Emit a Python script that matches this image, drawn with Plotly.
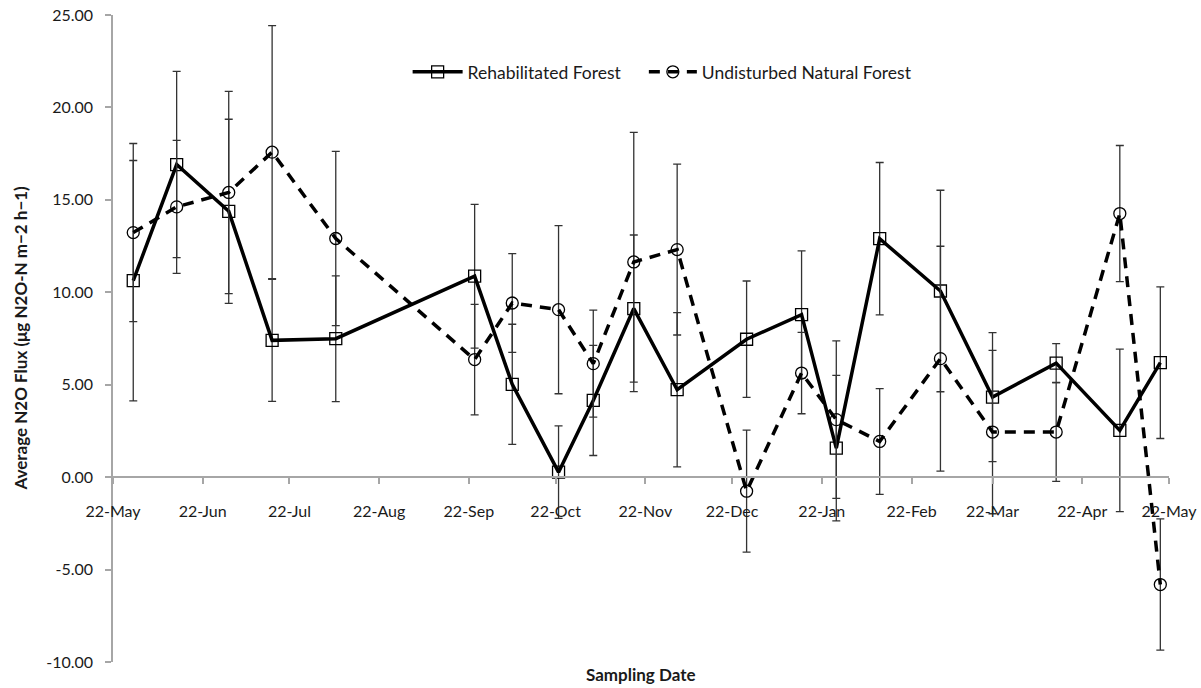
import plotly.graph_objects as go

# Sampling dates (year chosen so that Feb has 28 days)
dates = ["2010-05-29", "2010-06-13", "2010-07-01", "2010-07-16", "2010-08-07",
         "2010-09-24", "2010-10-07", "2010-10-23", "2010-11-04", "2010-11-18",
         "2010-12-03", "2010-12-27", "2011-01-15", "2011-01-27", "2011-02-11",
         "2011-03-04", "2011-03-22", "2011-04-13", "2011-05-05", "2011-05-19"]

rehab = [10.63, 16.91, 14.38, 7.40, 7.49, 10.87, 5.02, 0.27, 4.15, 9.12,
         4.73, 7.46, 8.79, 1.57, 12.90, 10.07, 4.33, 6.17, 2.53, 6.19]
rehab_err = [6.50, 5.04, 4.98, 3.30, 3.40, 3.89, 3.25, 2.50, 2.98, 3.98,
             4.17, 3.15, 3.45, 3.94, 4.12, 5.45, 3.49, 1.05, 4.40, 4.10]

natural = [13.23, 14.62, 15.40, 17.58, 12.91, 6.36, 9.42, 9.06, 6.14, 11.64,
           12.31, -0.76, 5.63, 3.11, 1.93, 6.41, 2.44, 2.44, 14.26, -5.81]
natural_err = [4.82, 3.60, 5.47, 6.84, 4.71, 2.99, 2.67, 4.55, 2.89, 7.01,
               4.62, 3.30, 2.20, 4.26, 2.86, 6.08, 4.42, 2.67, 3.68, 3.55]

tick_dates = ["2010-05-22", "2010-06-22", "2010-07-22", "2010-08-22", "2010-09-22",
              "2010-10-22", "2010-11-22", "2010-12-22", "2011-01-22", "2011-02-22",
              "2011-03-22", "2011-04-22", "2011-05-22"]
tick_labels = ["22-May", "22-Jun", "22-Jul", "22-Aug", "22-Sep", "22-Oct", "22-Nov",
               "22-Dec", "22-Jan", "22-Feb", "22-Mar", "22-Apr", "22-May"]

y_ticks = [-10, -5, 0, 5, 10, 15, 20, 25]
y_tick_labels = ["-10.00", "-5.00", "0.00", "5.00", "10.00", "15.00", "20.00", "25.00"]

FONT = "Lato"
TXT = "#1a1a1a"
AX = "#a6a6a6"

fig = go.Figure()
fig.add_trace(go.Scatter(
    x=dates, y=rehab, name="Rehabilitated Forest", mode="lines+markers",
    line=dict(color="black", width=3.5),
    marker=dict(symbol="square-open", size=12, color="black", line=dict(width=1.3)),
    error_y=dict(type="data", array=rehab_err, color="#333333", thickness=1.3, width=4),
    legend="legend",
))
fig.add_trace(go.Scatter(
    x=dates, y=natural, name="Undisturbed Natural Forest", mode="lines+markers",
    line=dict(color="black", width=3.5, dash="11px,8px"),
    marker=dict(symbol="circle-open", size=12, color="black", line=dict(width=1.3)),
    error_y=dict(type="data", array=natural_err, color="#333333", thickness=1.3, width=4),
    legend="legend2",
))

ymin, ymax = -10, 25
legend_common = dict(orientation="h", xanchor="left", y=0.912, yanchor="middle",
                     font=dict(size=17.5, family=FONT, color=TXT), bgcolor="rgba(0,0,0,0)")
fig.update_layout(
    width=1201, height=688,
    margin=dict(l=113, r=32, t=15, b=26),
    paper_bgcolor="white", plot_bgcolor="white",
    font=dict(family=FONT, size=16, color=TXT),
    showlegend=True,
    legend=dict(x=0.279, itemwidth=50, **legend_common),
    legend2=dict(x=0.5027, itemwidth=48, **legend_common),
    xaxis=dict(
        type="date", range=["2010-05-22", "2011-05-22"],
        anchor="free", position=(0 - ymin) / (ymax - ymin),
        showline=True, linecolor=AX, linewidth=1.5,
        ticks="outside", ticklen=6, tickcolor=AX, tickwidth=1.5,
        tickvals=tick_dates, ticktext=tick_labels, ticklabelstandoff=14,
        showgrid=False, zeroline=False, automargin=False,
        tickfont=dict(size=16, family=FONT, color=TXT),
    ),
    yaxis=dict(
        range=[ymin, ymax], showline=True, linecolor=AX, linewidth=1.5,
        ticks="outside", ticklen=6, tickcolor=AX, tickwidth=1.5,
        tickvals=y_ticks, ticktext=y_tick_labels, ticklabelstandoff=9,
        showgrid=False, zeroline=False, automargin=False,
        tickfont=dict(size=16, family=FONT, color=TXT),
    ),
    annotations=[
        dict(text="<b>Average N2O Flux (μg N2O-N m−2 h−1)</b>", textangle=-90,
             xref="paper", yref="paper", x=(20 - 113) / 1056, y=0.5,
             xanchor="center", yanchor="middle", showarrow=False,
             font=dict(size=17, family=FONT, color=TXT)),
        dict(text="<b>Sampling Date</b>",
             xref="paper", yref="paper", x=0.5, y=(662 - 687) / 647,
             xanchor="center", yanchor="bottom", showarrow=False,
             font=dict(size=17, family=FONT, color=TXT)),
    ],
)

post = ("document.documentElement.style.overflow='hidden';"
        "document.body.style.margin='0';document.body.style.overflow='hidden';"
        "var d=document.getElementById('{plot_id}');"
        "d.style.position='absolute';d.style.left='0px';d.style.top='0px';")

fig.write_html("out.html", post_script=post, config={"displayModeBar": False})
